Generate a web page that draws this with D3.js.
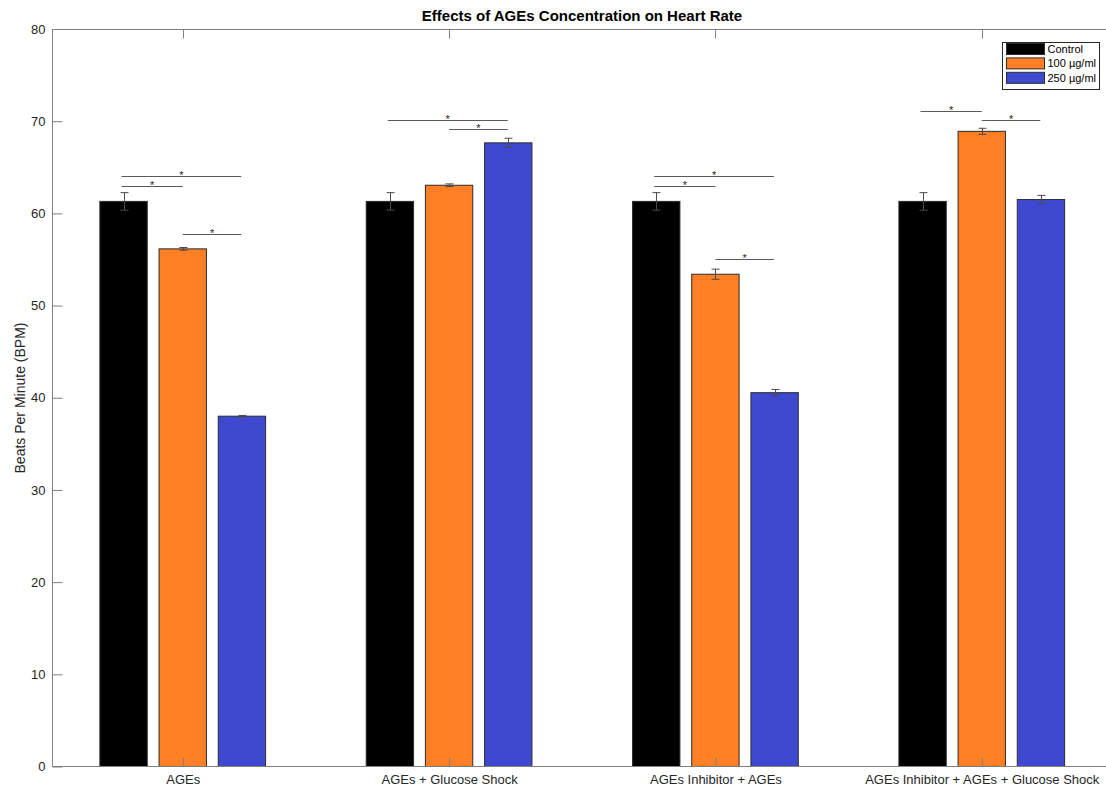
<!DOCTYPE html>
<html>
<head>
<meta charset="utf-8">
<script src="https://cdn.jsdelivr.net/npm/d3@7/dist/d3.min.js"></script>
<style>
  html, body { margin: 0; padding: 0; background: #fff; }
  svg { display: block; font-family: "Liberation Sans", Arial, Helvetica, sans-serif; }
</style>
</head>
<body>
<svg id="chart" width="1106" height="790"></svg>
<script>
// Treatment groups along the x axis
const categories = [
  "AGEs",
  "AGEs + Glucose Shock",
  "AGEs Inhibitor + AGEs",
  "AGEs Inhibitor + AGEs + Glucose Shock"
];
// Concentration series
const seriesNames = ["Control", "100 µg/ml", "250 µg/ml"];
const seriesColors = ["#000000", "#FF7F24", "#3F49CF"];

// Mean heart rate (BPM) and standard error per group
const controlBPM = [61.3, 61.3, 61.3, 61.3];
const controlErr = [0.95, 0.95, 0.95, 0.95];
const dose100BPM = [56.15, 63.05, 53.4, 68.9];
const dose100Err = [0.15, 0.15, 0.55, 0.33];
const dose250BPM = [38.0, 67.65, 40.55, 61.5];
const dose250Err = [0.08, 0.5, 0.35, 0.45];

// Significance brackets: group index, start/end offset within group, height (BPM)
const sigGroup = [0, 0, 0, 1, 1, 2, 2, 2, 3, 3];
const sigFrom  = [-0.23, -0.23, 0, -0.23, 0, -0.23, -0.23, 0, -0.23, 0];
const sigTo    = [0.22, 0, 0.22, 0.22, 0.22, 0.22, 0, 0.22, 0, 0.22];
const sigLevel = [64, 63, 57.8, 70.1, 69.1, 64, 63, 55.1, 71.1, 70.1];

const yTicks = [0, 10, 20, 30, 40, 50, 60, 70, 80];

const svg = d3.select("#chart");
const textColor = "#262626";
const axisColor = "#808080";

// Scales: categories sit at 1..4 on a continuous axis
const x = d3.scaleLinear().domain([0.511, 4.489]).range([52.5, 1112]);
const y = d3.scaleLinear().domain([0, 80]).range([766.5, 29]);

const groupWidth = Math.min(0.8, 3 / (3 + 1.5));
const barStep = groupWidth / 3;
const barWidth = barStep * 0.8;

const values = [controlBPM, dose100BPM, dose250BPM];
const errors = [controlErr, dose100Err, dose250Err];

const bars = [];
values.forEach((vals, s) => {
  vals.forEach((v, i) => {
    bars.push({ s, i, v, e: errors[s][i], cx: (i + 1) + (s - 1) * barStep });
  });
});

const plot = svg.append("g");

// Bars
plot.selectAll("rect.bar").data(bars).enter().append("rect")
  .attr("class", "bar")
  .attr("x", d => x(d.cx - barWidth / 2))
  .attr("width", d => x(d.cx + barWidth / 2) - x(d.cx - barWidth / 2))
  .attr("y", d => y(d.v))
  .attr("height", d => y(0) - y(d.v))
  .attr("fill", d => seriesColors[d.s])
  .attr("stroke", "#2b2b2b")
  .attr("stroke-width", 1);

// Error bars
const eb = plot.selectAll("g.err").data(bars).enter().append("g")
  .attr("class", "err")
  .attr("stroke", "#4a4a4a")
  .attr("stroke-width", 1)
  .attr("fill", "none");
eb.append("line")
  .attr("x1", d => Math.round(x(d.cx)) + 0.5).attr("x2", d => Math.round(x(d.cx)) + 0.5)
  .attr("y1", d => y(d.v + d.e)).attr("y2", d => y(d.v - d.e));
eb.append("line")
  .attr("x1", d => Math.round(x(d.cx)) - 3.5).attr("x2", d => Math.round(x(d.cx)) + 4.5)
  .attr("y1", d => y(d.v + d.e)).attr("y2", d => y(d.v + d.e));
eb.append("line")
  .attr("x1", d => Math.round(x(d.cx)) - 3.5).attr("x2", d => Math.round(x(d.cx)) + 4.5)
  .attr("y1", d => y(d.v - d.e)).attr("y2", d => y(d.v - d.e));

// Significance brackets with asterisks
const sig = sigGroup.map((g, k) => ({
  x1: g + 1 + sigFrom[k], x2: g + 1 + sigTo[k], lvl: sigLevel[k]
}));
plot.selectAll("line.sig").data(sig).enter().append("line")
  .attr("class", "sig")
  .attr("x1", d => x(d.x1)).attr("x2", d => x(d.x2))
  .attr("y1", d => Math.round(y(d.lvl)) + 0.5).attr("y2", d => Math.round(y(d.lvl)) + 0.5)
  .attr("stroke", "#5a5a5a").attr("stroke-width", 1);
plot.selectAll("text.star").data(sig).enter().append("text")
  .attr("class", "star")
  .attr("x", d => x((d.x1 + d.x2) / 2))
  .attr("y", d => Math.round(y(d.lvl)) + 3)
  .attr("text-anchor", "middle")
  .attr("font-size", 11)
  .attr("fill", textColor)
  .text("*");

// Axes box
const ax = svg.append("g").attr("stroke", axisColor).attr("stroke-width", 1).attr("fill", "none");
ax.append("line").attr("x1", 52.5).attr("x2", 1112).attr("y1", 766.5).attr("y2", 766.5);
ax.append("line").attr("x1", 52.5).attr("x2", 1112).attr("y1", 29.5).attr("y2", 29.5);
ax.append("line").attr("x1", 52.5).attr("x2", 52.5).attr("y1", 29.5).attr("y2", 766.5);

// Y axis ticks (inward) and labels
const yAxis = d3.axisLeft(y).tickValues(yTicks).tickSize(-10).tickPadding(7).tickFormat(d3.format("d"));
const yG = svg.append("g").attr("transform", "translate(52.5,0)").call(yAxis);
yG.select(".domain").remove();
yG.selectAll(".tick line").attr("stroke", axisColor);
yG.selectAll(".tick text").attr("fill", textColor).attr("font-size", 13)
  .attr("font-family", "Liberation Sans, Arial, sans-serif");

// X axis ticks (inward) and category labels
const xAxis = d3.axisBottom(x).tickValues([1, 2, 3, 4]).tickSize(-9).tickPadding(8)
  .tickFormat(d => categories[d - 1]);
const xG = svg.append("g").attr("transform", "translate(0,766.5)").call(xAxis);
xG.select(".domain").remove();
xG.selectAll(".tick line").attr("stroke", axisColor);
xG.selectAll(".tick text").attr("fill", textColor).attr("font-size", 13)
  .attr("font-family", "Liberation Sans, Arial, sans-serif");

// Mirrored ticks on the top edge
svg.append("g").selectAll("line").data([1, 2, 3, 4]).enter().append("line")
  .attr("x1", d => Math.round(x(d)) + 0.5).attr("x2", d => Math.round(x(d)) + 0.5)
  .attr("y1", 29.5).attr("y2", 38.5)
  .attr("stroke", axisColor);

// Title
svg.append("text")
  .attr("x", 582).attr("y", 21)
  .attr("text-anchor", "middle")
  .attr("font-size", 15).attr("font-weight", "bold")
  .attr("fill", "#000")
  .text("Effects of AGEs Concentration on Heart Rate");

// Y axis label
svg.append("text")
  .attr("transform", "translate(25,398) rotate(-90)")
  .attr("text-anchor", "middle")
  .attr("font-size", 14)
  .attr("fill", textColor)
  .text("Beats Per Minute (BPM)");

// Legend
const lg = svg.append("g");
lg.append("rect")
  .attr("x", 1002.5).attr("y", 42.5).attr("width", 97).attr("height", 47)
  .attr("fill", "#fff").attr("stroke", "#262626").attr("stroke-width", 1);
seriesNames.forEach((name, s) => {
  const ry = 43.5 + s * 14.4;
  lg.append("rect")
    .attr("x", 1006.5).attr("y", ry).attr("width", 38).attr("height", 11)
    .attr("fill", seriesColors[s]).attr("stroke", "#2b2b2b").attr("stroke-width", 1);
  lg.append("text")
    .attr("x", 1047.5).attr("y", ry + 9.5)
    .attr("font-size", 11)
    .attr("fill", "#000")
    .text(name);
});
</script>
</body>
</html>
